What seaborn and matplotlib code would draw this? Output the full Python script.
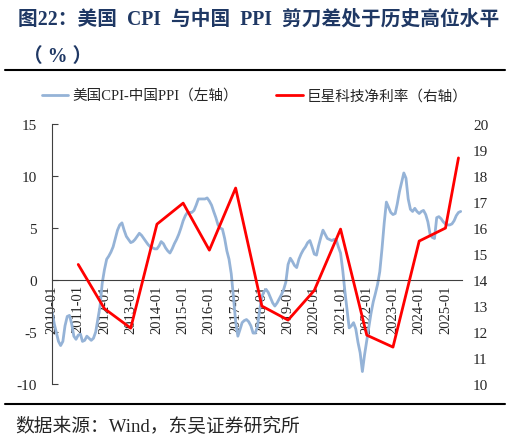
import numpy as np
import pandas as pd
import matplotlib
matplotlib.use("Agg")
import matplotlib.pyplot as plt
import matplotlib.dates as mdates
from matplotlib.lines import Line2D
import seaborn as sns

sns.set_style("white")
plt.rcParams['font.family'] = ['Liberation Serif', 'Noto Sans CJK SC']
plt.rcParams['axes.unicode_minus'] = False

# US CPI - China PPI, monthly from 2010-01
spread = [
    -3.0, -4.2, -5.0, -5.9, -6.3, -5.9, -4.4, -3.5, -3.4, -4.2, -5.4, -5.7,   # 2010
    -5.3, -5.2, -5.9, -5.8, -5.4, -5.6, -5.8, -5.6, -5.0, -3.8, -2.5, -0.3,   # 2011
    1.0, 2.0, 2.3, 2.7, 3.2, 4.0, 4.8, 5.3, 5.5, 4.8, 4.2, 3.9,               # 2012
    3.6, 3.7, 3.9, 4.2, 4.5, 4.3, 4.0, 3.7, 3.4, 3.2, 3.1, 3.0,               # 2013
    3.0, 3.3, 3.7, 3.5, 3.1, 2.8, 2.6, 3.0, 3.5, 3.9, 4.4, 5.0,               # 2014
    5.7, 6.2, 6.5, 6.5, 6.5, 6.7, 7.2, 7.8, 7.8, 7.8, 7.8, 7.9,               # 2015
    7.6, 7.2, 6.6, 6.0, 5.3, 5.0, 4.9, 4.0, 2.8, 2.0, 0.6, -1.6,              # 2016
    -4.0, -5.4, -4.8, -4.1, -3.9, -3.8, -4.0, -4.4, -5.1, -5.1, -4.5, -2.9,   # 2017
    -1.6, -1.1, -0.9, -1.2, -1.7, -2.2, -2.5, -2.2, -1.8, -1.4, -0.9, -0.2,   # 2018
    1.5, 2.1, 1.8, 1.4, 1.2, 2.0, 2.5, 2.9, 3.2, 3.6, 3.8, 3.2,               # 2019
    2.5, 2.4, 3.3, 4.1, 4.8, 4.4, 4.0, 3.9, 3.8, 3.9, 3.9, 3.2,               # 2020
    2.6, 0.9, -1.0, -2.8, -4.6, -4.4, -4.1, -4.7, -6.0, -7.0, -8.8, -7.2,     # 2021
    -5.8, -4.4, -3.2, -2.1, -1.3, -0.4, 0.8, 3.0, 5.5, 7.5, 7.0, 6.5,         # 2022
    6.3, 6.4, 7.3, 8.5, 9.4, 10.3, 9.8, 7.8, 6.8, 6.6, 6.9, 6.6,              # 2023
    6.4, 6.6, 6.7, 6.3, 5.6, 4.4, 4.1, 4.0, 6.0, 6.1, 5.9, 5.6,               # 2024
    5.4, 5.3, 5.3, 5.4, 5.7, 6.2, 6.5, 6.6,                                   # 2025
]
spread_dates = pd.date_range("2010-01-01", periods=len(spread), freq="MS")

# Net margin of 巨星科技 (right axis)
margin_dates = pd.to_datetime([
    "2011-01", "2012-01", "2013-01", "2014-01", "2015-01", "2016-01", "2017-01", "2018-01",
    "2019-01", "2020-01", "2021-01", "2022-01", "2023-01", "2024-01", "2025-01", "2025-07",
])
margin = [14.6, 12.9, 12.15, 16.15, 16.96, 15.15, 17.54, 13.0,
          12.46, 13.6, 15.96, 11.88, 11.42, 15.5, 16.0, 18.7]

df_spread = pd.DataFrame({"date": spread_dates, "value": spread})
df_margin = pd.DataFrame({"date": margin_dates, "value": margin})

label_spread = "美国CPI-中国PPI（左轴）"
label_margin = "巨星科技净利率（右轴）"
blue = "#95B3D7"
red = "#FF0000"
navy = "#1F3864"

fig = plt.figure(figsize=(5.10, 4.39), dpi=100)
ax = fig.add_axes([0.102, 0.123, 0.804, 0.592])
ax2 = ax.twinx()

sns.lineplot(data=df_spread, x="date", y="value", ax=ax, color=blue, linewidth=2.0,
             label=label_spread, legend=False)
sns.lineplot(data=df_margin, x="date", y="value", ax=ax2, color=red, linewidth=2.0,
             label=label_margin, legend=False)

# left axis
ax.set_ylim(-10, 15)
ax.set_yticks([-10, -5, 0, 5, 10, 15])
ax.set_xlim(pd.Timestamp("2010-01-01"), pd.Timestamp("2025-08-20"))
ax.set_xlabel("")
ax.set_ylabel("")
for s in ["top", "right"]:
    ax.spines[s].set_visible(False)
ax.spines["left"].set_color("#404040")
ax.spines["bottom"].set_position(("data", 0))
ax.spines["bottom"].set_color("#404040")
ax.xaxis.set_major_locator(mdates.YearLocator(1, month=1, day=1))
ax.xaxis.set_major_formatter(mdates.DateFormatter("%Y-%m"))
ax.tick_params(axis="x", direction="in", length=4, color="#404040", pad=3,
               labelsize=10.5, rotation=90)
ax.tick_params(axis="y", direction="in", length=4, color="#404040", pad=11,
               labelsize=11)
for lab in ax.get_xticklabels():
    lab.set_verticalalignment("top")

# right axis
ax2.set_ylim(10, 20)
ax2.set_yticks(range(10, 21))
ax2.set_ylabel("")
for s in ax2.spines.values():
    s.set_visible(False)
ax2.tick_params(axis="y", length=0, pad=8, labelsize=11)

# legend
handles = [Line2D([], [], color=blue, linewidth=2.0), Line2D([], [], color=red, linewidth=2.0)]
fig.legend(handles, [label_spread, label_margin], loc="center", bbox_to_anchor=(0.5, 0.779),
           ncol=2, frameon=False, fontsize=10.5, handlelength=1.8, columnspacing=2.6,
           handletextpad=0.3)

# title and source
fig.text(0.035, 0.955, "图22：美国  CPI  与中国  PPI  剪刀差处于历史高位水平", fontsize=14.2,
         fontweight="bold", color=navy, va="center", ha="left")
fig.text(0.045, 0.87, "（ % ）", fontsize=14.2, fontweight="bold", color=navy,
         va="center", ha="left")
fig.add_artist(Line2D([0.01, 0.99], [0.838, 0.838], color="black", linewidth=1.5))
fig.add_artist(Line2D([0.01, 0.99], [0.077, 0.077], color="black", linewidth=1.5))
fig.text(0.03, 0.028, "数据来源：Wind，东吴证券研究所", fontsize=13.5, va="center", ha="left")

fig.savefig("out.png", dpi=100)
